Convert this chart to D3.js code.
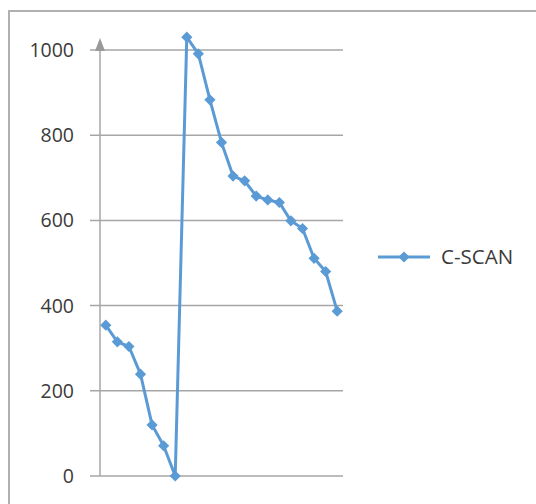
<!DOCTYPE html>
<html>
<head>
<meta charset="utf-8">
<script src="https://cdn.jsdelivr.net/npm/d3@7"></script>
<style>
  body { margin: 0; background: #fff; }
  svg { display: block; font-family: 'Open Sans', 'Liberation Sans', Arial, sans-serif; }
</style>
</head>
<body>
<script>
// Data
const SERIES_NAME = 'C-SCAN'
const CATEGORIES = d3.range(1, 22)
const VALUES = [354, 315, 304, 239, 120, 71, 0, 1030, 991, 883, 783, 704, 693, 657, 648, 642, 599, 581, 511, 480, 387]
const Y_TICKS = [0, 200, 400, 600, 800, 1000]

const width = 536
const height = 504
const BLUE = '#5b9bd5'
const GRID = '#a6a6a6'

const svg = d3.select('body').append('svg')
  .attr('width', width)
  .attr('height', height)

// Chart border (only top and left visible)
svg.append('path')
  .attr('d', `M9,${height} V11 H${width}`)
  .attr('fill', 'none')
  .attr('stroke', '#b0b0b0')
  .attr('stroke-width', 2)

// Scales
const x = d3.scaleBand()
  .domain(CATEGORIES)
  .range([100, 343])

const y = d3.scaleLinear()
  .domain([0, 1000])
  .range([476, 50])

// Gridlines
svg.append('g')
  .selectAll('line')
  .data(Y_TICKS)
  .enter()
  .append('line')
  .attr('x1', 90)
  .attr('x2', 343)
  .attr('y1', d => y(d))
  .attr('y2', d => y(d))
  .attr('stroke', GRID)
  .attr('stroke-width', 1.5)

// Y axis line with arrow
svg.append('line')
  .attr('x1', 100)
  .attr('x2', 100)
  .attr('y1', y(0))
  .attr('y2', y(1000) - 4)
  .attr('stroke', GRID)
  .attr('stroke-width', 1.5)

svg.append('path')
  .attr('d', `M100,${y(1000) - 12} L95,${y(1000) + 1} L105,${y(1000) + 1} Z`)
  .attr('fill', '#999')

// Tick labels
svg.append('g')
  .selectAll('text')
  .data(Y_TICKS)
  .enter()
  .append('text')
  .attr('x', 74)
  .attr('y', d => y(d))
  .attr('dy', '0.36em')
  .attr('text-anchor', 'end')
  .style('font-size', '19.5px')
  .attr('fill', '#3a3a3a')
  .text(d => d)

// Line
const line = d3.line()
  .x((_, i) => x(CATEGORIES[i]) + x.bandwidth() / 2)
  .y(d => y(d))

svg.append('path')
  .datum(VALUES)
  .attr('d', line)
  .attr('fill', 'none')
  .attr('stroke', BLUE)
  .attr('stroke-width', 3)
  .attr('stroke-linejoin', 'round')

const diamond = d3.symbol().type(d3.symbolDiamond2).size(80)

svg.append('g')
  .selectAll('path')
  .data(VALUES)
  .enter()
  .append('path')
  .attr('d', diamond)
  .attr('transform', (d, i) => `translate(${x(CATEGORIES[i]) + x.bandwidth() / 2},${y(d)})`)
  .attr('fill', BLUE)

// Legend
const legend = svg.append('g')
legend.append('line')
  .attr('x1', 378)
  .attr('x2', 430)
  .attr('y1', 257)
  .attr('y2', 257)
  .attr('stroke', BLUE)
  .attr('stroke-width', 3)
legend.append('path')
  .attr('d', diamond)
  .attr('transform', 'translate(404,257)')
  .attr('fill', BLUE)
legend.append('text')
  .attr('x', 441)
  .attr('y', 257)
  .attr('dy', '0.36em')
  .style('font-size', '20.5px')
  .attr('fill', '#3a3a3a')
  .text(SERIES_NAME)
</script>
</body>
</html>
